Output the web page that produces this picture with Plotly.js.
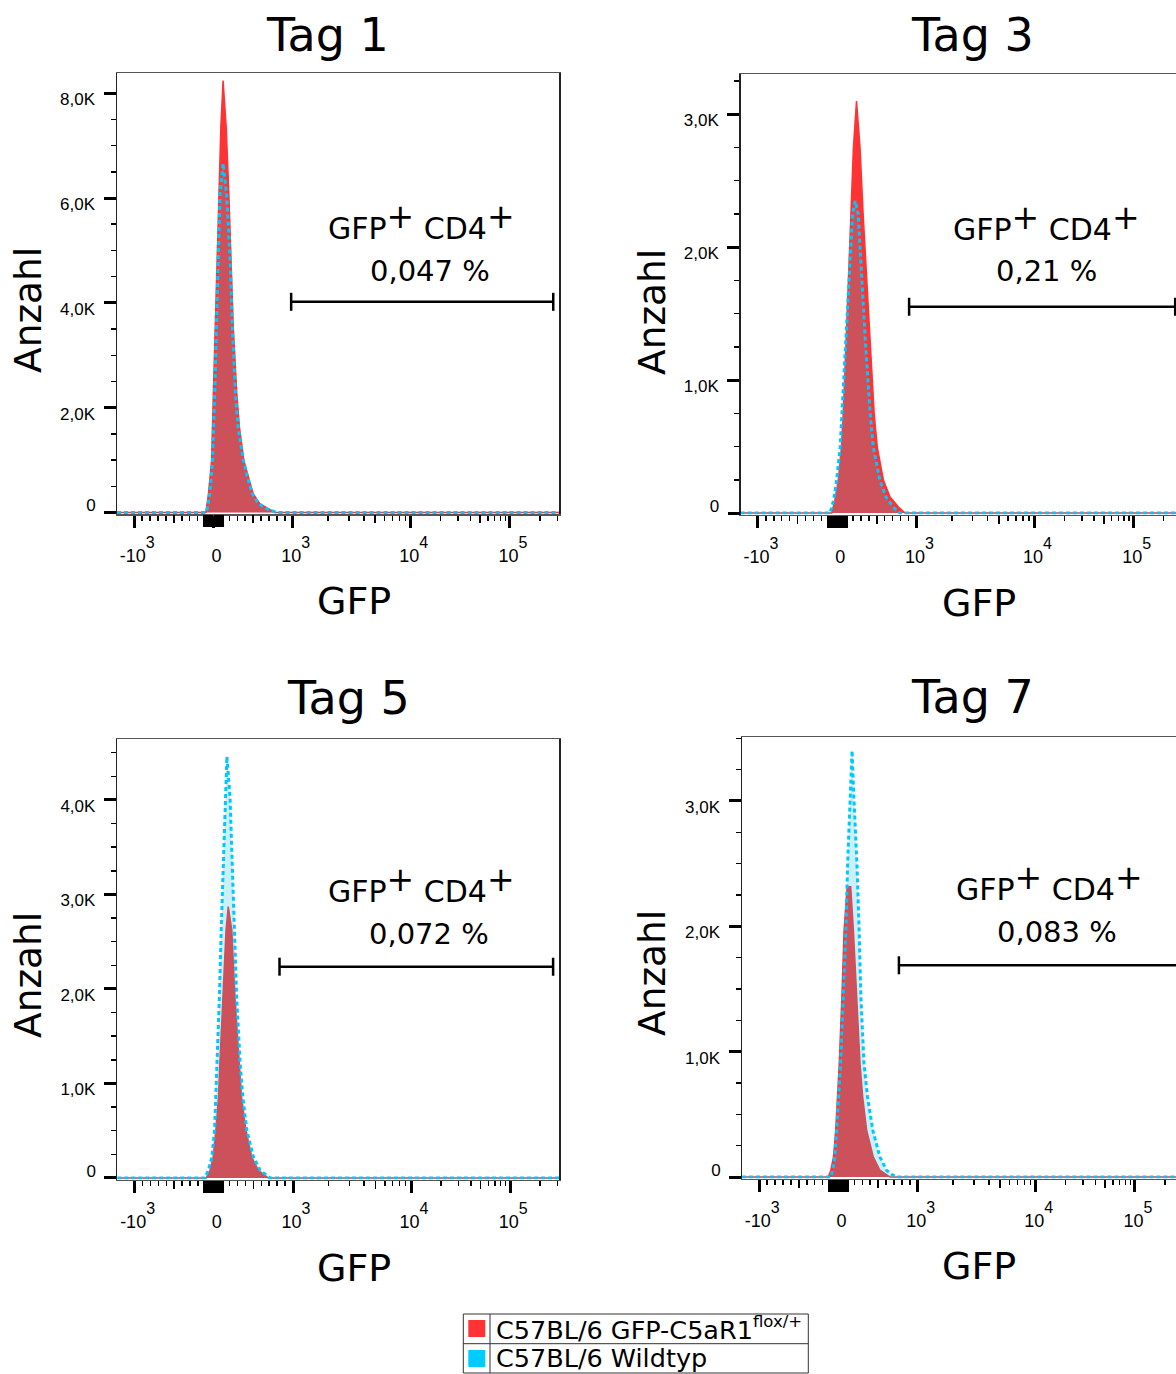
<!DOCTYPE html>
<html>
<head>
<meta charset="utf-8">
<script src="https://cdn.plot.ly/plotly-3.0.1.min.js"></script>
<style>
html, body { margin:0; padding:0; overflow:hidden; background:#fff; }
#chart { width:1190px; height:1374px; }
</style>
</head>
<body>
<div id="chart"></div>
<script>
// ---------------- DATA (x = display channel 0..1000 of the GFP axis, y = cell count) ----------------
const panelTitles = ['Tag 1', 'Tag 3', 'Tag 5', 'Tag 7'];
const gatePercents = ['0,047 %', '0,21 %', '0,072 %', '0,083 %'];
const seriesNames = ['C57BL/6 GFP-C5aR1', 'C57BL/6 Wildtyp'];
const seriesSuffix = ['flox/+', ''];

// Tag 1
const tag1RedX  = [0, 201, 207, 214, 218, 222, 226, 231, 235, 240, 247, 253, 258, 263, 271, 277, 287, 297, 308, 323, 342, 357, 1000];
const tag1RedY  = [0, 0, 360, 990, 2270, 3540, 4810, 6090, 7360, 8240, 7360, 6090, 4810, 3540, 2270, 1630, 990, 680, 360, 170, 70, 0, 0];
const tag1BlueX = [0, 201, 204, 210, 216, 219, 221, 225, 229, 230, 233, 240, 248, 252, 256, 261, 268, 274, 286, 295, 306, 320, 339, 361, 1000];
const tag1BlueY = [0, 0, 70, 360, 990, 1630, 2270, 3540, 4810, 5450, 6090, 6660, 6090, 5450, 4810, 3540, 2270, 1630, 990, 680, 360, 170, 70, 0, 0];
// Tag 3
const tag3RedX  = [0, 206, 213, 221, 228, 232, 238, 244, 249, 255, 262, 270, 277, 285, 293, 302, 309, 323, 338, 357, 372, 1000];
const tag3RedY  = [0, 0, 95, 246, 496, 747, 1247, 1748, 2250, 2750, 3100, 2750, 2250, 1748, 1247, 747, 496, 246, 120, 45, 0, 0];
const tag3BlueX = [0, 202, 210, 217, 225, 229, 238, 245, 249, 253, 259, 266, 270, 274, 283, 293, 300, 315, 329, 345, 360, 1000];
const tag3BlueY = [0, 0, 95, 246, 496, 747, 1247, 1748, 2000, 2250, 2348, 2250, 2000, 1748, 1247, 747, 496, 246, 120, 45, 0, 0];
// Tag 5
const tag5RedX  = [0, 201, 210, 217, 223, 229, 232, 239, 246, 251, 259, 266, 276, 281, 291, 304, 319, 334, 342, 1000];
const tag5RedY  = [0, 0, 82, 222, 505, 858, 1212, 1917, 2624, 2871, 2624, 1917, 1212, 858, 505, 222, 82, 30, 0, 0];
const tag5BlueX = [0, 198, 206, 214, 220, 223, 226, 231, 235, 240, 244, 248, 255, 260, 265, 270, 278, 284, 293, 308, 323, 338, 346, 1000];
const tag5BlueY = [0, 0, 82, 222, 505, 858, 1212, 1917, 2624, 3330, 4036, 4460, 4036, 3330, 2624, 1917, 1212, 858, 505, 222, 82, 30, 0, 0];
// Tag 7
const tag7RedX  = [0, 195, 201, 207, 212, 216, 220, 226, 231, 238, 246, 252, 260, 267, 273, 282, 297, 312, 335, 1000];
const tag7RedY  = [0, 0, 54, 160, 373, 639, 906, 1438, 1970, 2316, 2316, 1970, 1438, 906, 639, 373, 160, 54, 0, 0];
const tag7BlueX = [0, 201, 205, 210, 214, 219, 223, 229, 235, 239, 244, 249, 253, 260, 265, 269, 276, 284, 296, 312, 327, 339, 350, 1000];
const tag7BlueY = [0, 0, 54, 160, 373, 639, 906, 1438, 1970, 2503, 3035, 3402, 3035, 2503, 1970, 1438, 906, 639, 373, 160, 54, 20, 0, 0];

// Gate (GFP+ CD4+): start / end channel and height (count) per panel
const gateStart = [394, 381, 367, 355];
const gateEnd   = [987, 983, 986, 987];
const gateLevel = [4020, 1552, 2236, 1689];

// GFP axis ticks (biexponential display): value, base text, exponent
const gfpTickValues = [-1000, 0, 1000, 10000, 100000];
const gfpTickBase   = ['-10', '0', '10', '10', '10'];
const gfpTickExp    = ['3', '', '3', '4', '5'];

const redX = [tag1RedX, tag3RedX, tag5RedX, tag7RedX];
const redY = [tag1RedY, tag3RedY, tag5RedY, tag7RedY];
const blueX = [tag1BlueX, tag3BlueX, tag5BlueX, tag7BlueX];
const blueY = [tag1BlueY, tag3BlueY, tag5BlueY, tag7BlueY];

// ---------------- helpers ----------------
const raised = (t, size, shift) => t ? '<span style="font-size:' + size + 'px;baseline-shift:' + shift + 'px">' + t + '</span>' : '';

// display scale for the GFP axis
function toChannel(v) {
  if (v >= -1000 && v <= 1000) return 218.3 + v * 0.1792;
  if (v > 1000 && v <= 10000) return 397.5 + Math.log10(v / 1000) * 267;
  return 664.5 + Math.log10(v / 10000) * 224.6;
}
const majorVals = gfpTickValues.map(toChannel);
const majorText = gfpTickBase.map((b, i) => b + raised(gfpTickExp[i], 16, 14));
const clusterVals = [-120, -100, -80, -60, -40, -20, 20, 40, 60, 80, 100, 120].map(toChannel);
const mediumVals = [-500, 500, 5000, 50000].map(toChannel);
const minorVals = [];
for (let v = -900; v <= 900; v += 100) if (v !== 0 && Math.abs(v) !== 500 && Math.abs(v) > 100) minorVals.push(toChannel(v));
[1000, 10000, 100000].forEach(d => { for (let k = 2; k <= 9; k++) if (k !== 5 || d === 100000) minorVals.push(toChannel(k * d)); });

// ---------------- layout geometry ----------------
const W = 1190, H = 1374;
const fx = px => px / W, fy = py => 1 - py / H;
const geo = [
  {l: 117,   r: 559,    t: 73,    b: 514,    yr: [-29, 8386], major: 2000, minor: 500},
  {l: 740.7, r: 1182.7, t: 74,    b: 514.5,  yr: [-11, 3303], major: 1000, minor: 250},
  {l: 117.3, r: 559.3,  t: 739,   b: 1179.5, yr: [-16, 4645], major: 1000, minor: 250},
  {l: 742,   r: 1184,   t: 737.3, b: 1178.5, yr: [-12, 3508], major: 1000, minor: 250}
];
const titlePos = [[327, 35], [972, 35], [348, 698], [972, 697]];
const ylabPos = [[28, 310], [652, 312], [28, 975], [652, 973]];
const xlabPos = [[354, 601], [979, 603], [354, 1268], [979, 1266]];
const gateLabPos = [[421, 221], [1046, 223], [421, 884], [1049, 882]];
const pctPos = [[430, 271], [1046, 271], [429, 934], [1057, 932]];

const RED = 'rgb(255,51,51)';
const BLUE = 'rgb(0,200,255)';
const tickFont = {family: 'Liberation Sans, Arial, sans-serif', size: 17, color: '#000'};
const xTickFont = {family: 'Liberation Sans, Arial, sans-serif', size: 18, color: '#000'};
const bigFont = 'DejaVu Sans, Verdana, sans-serif';
const plus = raised('+', 33, 11);

const traces = [];
const layout = {
  width: W, height: H,
  margin: {l: 0, r: 0, t: 0, b: 0, autoexpand: false},
  paper_bgcolor: '#fff', plot_bgcolor: '#fff',
  showlegend: false,
  annotations: [], shapes: []
};

geo.forEach((g, i) => {
  const n = i + 1, sx = n === 1 ? '' : String(n);
  const xa = 'x' + sx, ya = 'y' + sx;
  const ox = 'x' + (n + 4), oy = 'y' + (n + 4);
  traces.push({
    x: redX[i], y: redY[i], xaxis: xa, yaxis: ya, type: 'scatter', mode: 'lines',
    line: {color: RED, width: 1.5}, fill: 'tozeroy', fillcolor: RED,
    name: seriesNames[0], hoverinfo: 'skip'
  });
  traces.push({
    x: blueX[i], y: blueY[i], xaxis: xa, yaxis: ya, type: 'scatter', mode: 'lines',
    line: {color: BLUE, width: 3, dash: '4px,3px'}, fill: 'tozeroy', fillcolor: 'rgba(28,188,233,0.225)',
    name: seriesNames[1], hoverinfo: 'skip'
  });
  // invisible traces so the overlay tick axes are drawn
  traces.push({x: [null], y: [null], xaxis: ox, yaxis: ya, type: 'scatter', mode: 'markers', hoverinfo: 'skip', showlegend: false});
  traces.push({x: [null], y: [null], xaxis: xa, yaxis: oy, type: 'scatter', mode: 'markers', hoverinfo: 'skip', showlegend: false});

  const yt = [], ytt = [], ym = [];
  for (let v = g.major; v <= g.yr[1]; v += g.major) { yt.push(v); ytt.push((v / 1000).toFixed(1).replace('.', ',') + 'K'); }
  for (let v = g.minor; v <= g.yr[1]; v += g.minor) if (v % g.major !== 0) ym.push(v);
  layout['xaxis' + sx] = {
    domain: [fx(g.l), fx(g.r)], anchor: ya, range: [0, 1000], fixedrange: true,
    showgrid: false, zeroline: false, showline: true, linecolor: '#555', linewidth: 1.5, mirror: true,
    tickmode: 'array', tickvals: majorVals, ticktext: majorText, ticks: 'outside', ticklen: 12, tickwidth: 3, tickcolor: '#000',
    tickfont: xTickFont, ticklabelstandoff: 13, ticklabelshift: 3, tickangle: 0,
    minor: {tickmode: 'array', tickvals: minorVals, ticks: 'outside', ticklen: 5, tickwidth: 1.5, tickcolor: '#000', showgrid: false}
  };
  layout['xaxis' + (n + 4)] = {
    overlaying: xa, anchor: ya, side: 'bottom', range: [0, 1000], fixedrange: true,
    showgrid: false, zeroline: false, showline: false, showticklabels: false,
    tickmode: 'array', tickvals: clusterVals, ticks: 'outside', ticklen: 12, tickwidth: 2, tickcolor: '#000',
    minor: {tickmode: 'array', tickvals: mediumVals, ticks: 'outside', ticklen: 8, tickwidth: 1.5, tickcolor: '#000', showgrid: false}
  };
  layout['yaxis' + sx] = {
    domain: [fy(g.b), fy(g.t)], anchor: xa, range: g.yr, fixedrange: true,
    showgrid: false, zeroline: false, showline: true, linecolor: '#222', linewidth: 1.5, mirror: true,
    tickmode: 'array', tickvals: yt, ticktext: ytt, ticks: 'outside', ticklen: 12, tickwidth: 3, tickcolor: '#000',
    tickfont: tickFont, ticklabelstandoff: 5, ticklabelshift: 6,
    minor: {tickmode: 'array', tickvals: ym, ticks: 'outside', ticklen: 5, tickwidth: 1.5, tickcolor: '#000', showgrid: false}
  };
  // zero tick of the count axis (its label sits slightly above the tick)
  layout['yaxis' + (n + 4)] = {
    overlaying: ya, anchor: xa, side: 'left', range: g.yr, fixedrange: true,
    showgrid: false, zeroline: false, showline: false,
    tickmode: 'array', tickvals: [0], ticktext: ['0'], ticks: 'outside', ticklen: 12, tickwidth: 3, tickcolor: '#000',
    tickfont: tickFont, ticklabelstandoff: 5, ticklabelshift: -7
  };
  // gate bar with end caps
  layout.shapes.push({type: 'line', xref: xa, yref: ya, x0: gateStart[i], x1: gateEnd[i], y0: gateLevel[i], y1: gateLevel[i], line: {color: '#000', width: 2.5}});
  [gateStart[i], gateEnd[i]].forEach(xv => layout.shapes.push({
    type: 'line', xref: xa, yref: ya, x0: xv, x1: xv, ysizemode: 'pixel', yanchor: gateLevel[i], y0: -9, y1: 9,
    line: {color: '#000', width: 2.5}
  }));
  const A = layout.annotations;
  A.push({text: panelTitles[i], xref: 'paper', yref: 'paper', x: fx(titlePos[i][0]), y: fy(titlePos[i][1]), xanchor: 'center', yanchor: 'middle', showarrow: false, font: {family: bigFont, size: 46, color: '#000'}});
  A.push({text: 'Anzahl', xref: 'paper', yref: 'paper', x: fx(ylabPos[i][0]), y: fy(ylabPos[i][1]), xanchor: 'center', yanchor: 'middle', textangle: -90, showarrow: false, font: {family: bigFont, size: 37.5, color: '#000'}});
  A.push({text: 'GFP', xref: 'paper', yref: 'paper', x: fx(xlabPos[i][0]), y: fy(xlabPos[i][1]), xanchor: 'center', yanchor: 'middle', showarrow: false, font: {family: bigFont, size: 38, color: '#000'}});
  A.push({text: 'GFP' + plus + ' CD4' + plus, xref: 'paper', yref: 'paper', x: fx(gateLabPos[i][0]), y: fy(gateLabPos[i][1]), xanchor: 'center', yanchor: 'middle', showarrow: false, font: {family: bigFont, size: 30, color: '#000'}});
  A.push({text: gatePercents[i], xref: 'paper', yref: 'paper', x: fx(pctPos[i][0]), y: fy(pctPos[i][1]), xanchor: 'center', yanchor: 'middle', showarrow: false, font: {family: bigFont, size: 29, color: '#000'}});
});

// ---------------- legend table ----------------
const lg = {l: 463.3, r: 808.3, t: 1314, m: 1343.7, b: 1373, div: 490};
const swatchColors = [RED, 'rgb(0,204,255)'];
const rowTop = [1320, 1350], rowText = [1328, 1358];
layout.shapes.push({type: 'rect', xref: 'paper', yref: 'paper', x0: fx(lg.l), x1: fx(lg.r), y0: fy(lg.b), y1: fy(lg.t), line: {color: '#333', width: 1}, fillcolor: 'rgba(0,0,0,0)'});
layout.shapes.push({type: 'line', xref: 'paper', yref: 'paper', x0: fx(lg.l), x1: fx(lg.r), y0: fy(lg.m), y1: fy(lg.m), line: {color: '#333', width: 1}});
layout.shapes.push({type: 'line', xref: 'paper', yref: 'paper', x0: fx(lg.div), x1: fx(lg.div), y0: fy(lg.b), y1: fy(lg.t), line: {color: '#333', width: 1}});
seriesNames.forEach((name, k) => {
  layout.shapes.push({type: 'rect', xref: 'paper', yref: 'paper', x0: fx(468.3), x1: fx(485.3), y0: fy(rowTop[k] + 17), y1: fy(rowTop[k]), line: {width: 0}, fillcolor: swatchColors[k]});
  layout.annotations.push({text: name + raised(seriesSuffix[k], 16.5, 12), xref: 'paper', yref: 'paper', x: fx(494), y: fy(rowText[k]), xanchor: 'left', yanchor: 'middle', showarrow: false, font: {family: bigFont, size: 25.5, color: '#000'}});
});

Plotly.newPlot('chart', traces, layout, {displayModeBar: false, staticPlot: true});
</script>
</body>
</html>
